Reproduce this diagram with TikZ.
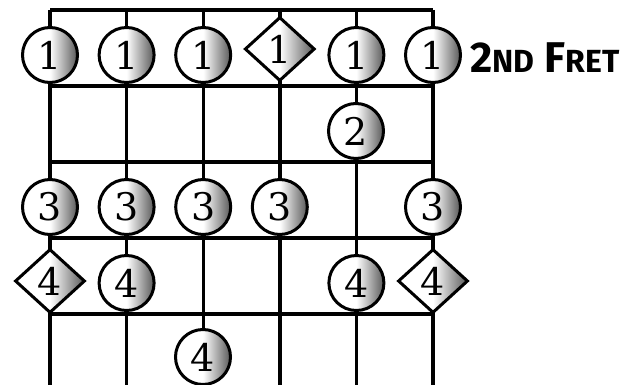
\documentclass[tikz,border=0pt]{standalone}
\usepackage{fontspec}
\newfontfamily\labelfont{Fira Sans}
\newfontfamily\digitfont{DejaVu Serif}
\usetikzlibrary{shapes.geometric}
\newcommand{\fretlbl}[1]{{\fontsize{32}{32}\selectfont #1}}

\begin{document}
\begin{tikzpicture}[x=1pt,y=-1pt,
  finger/.style={draw,line width=3pt,inner sep=0pt,left color=white,right color=gray!70!black,middle color=white,font=\digitfont\fontsize{38}{38}\selectfont},
  dot/.style={finger,circle,minimum size=55pt},
  root/.style={finger,diamond,minimum width=70pt,minimum height=64pt}]
  \useasboundingbox (0,0) rectangle (631,385);
  % fretboard
  \foreach \y in {10,86,162,238,314}{\draw[line width=3.4pt] (50,\y)--(433,\y);}
  \foreach \i in {0,...,5}{\draw[line width=3.4pt] ({50+76.6*\i},10)--({50+76.6*\i},385);}
  % 1st finger
  \foreach \s/\st/\yy in {1/dot/55,2/dot/55,3/dot/55,4/root/49,5/dot/55,6/dot/55}{
    \node[\st] (one\s) at ({50+76.6*(\s-1)},\yy) {1};
  }
  \node[dot] (two5) at (356,131) {2};
  \foreach \s in {1,2,3,4,6}{\node[dot] (three\s) at ({50+76.6*(\s-1)},207) {3};}
  \foreach \s/\st/\yy in {1/root/281,2/dot/283,5/dot/283,6/root/281}{
    \node[\st] (four\s) at ({50+76.6*(\s-1)},\yy) {4};
  }
  \node[dot] (fourlow3) at (203,357) {4};
  \node[anchor=west,font=\labelfont\bfseries\fontsize{43}{43}\selectfont,inner sep=0pt] (fretname) at (470,58) {2\fretlbl{ND} F\fretlbl{RET}};
\end{tikzpicture}
\end{document}
